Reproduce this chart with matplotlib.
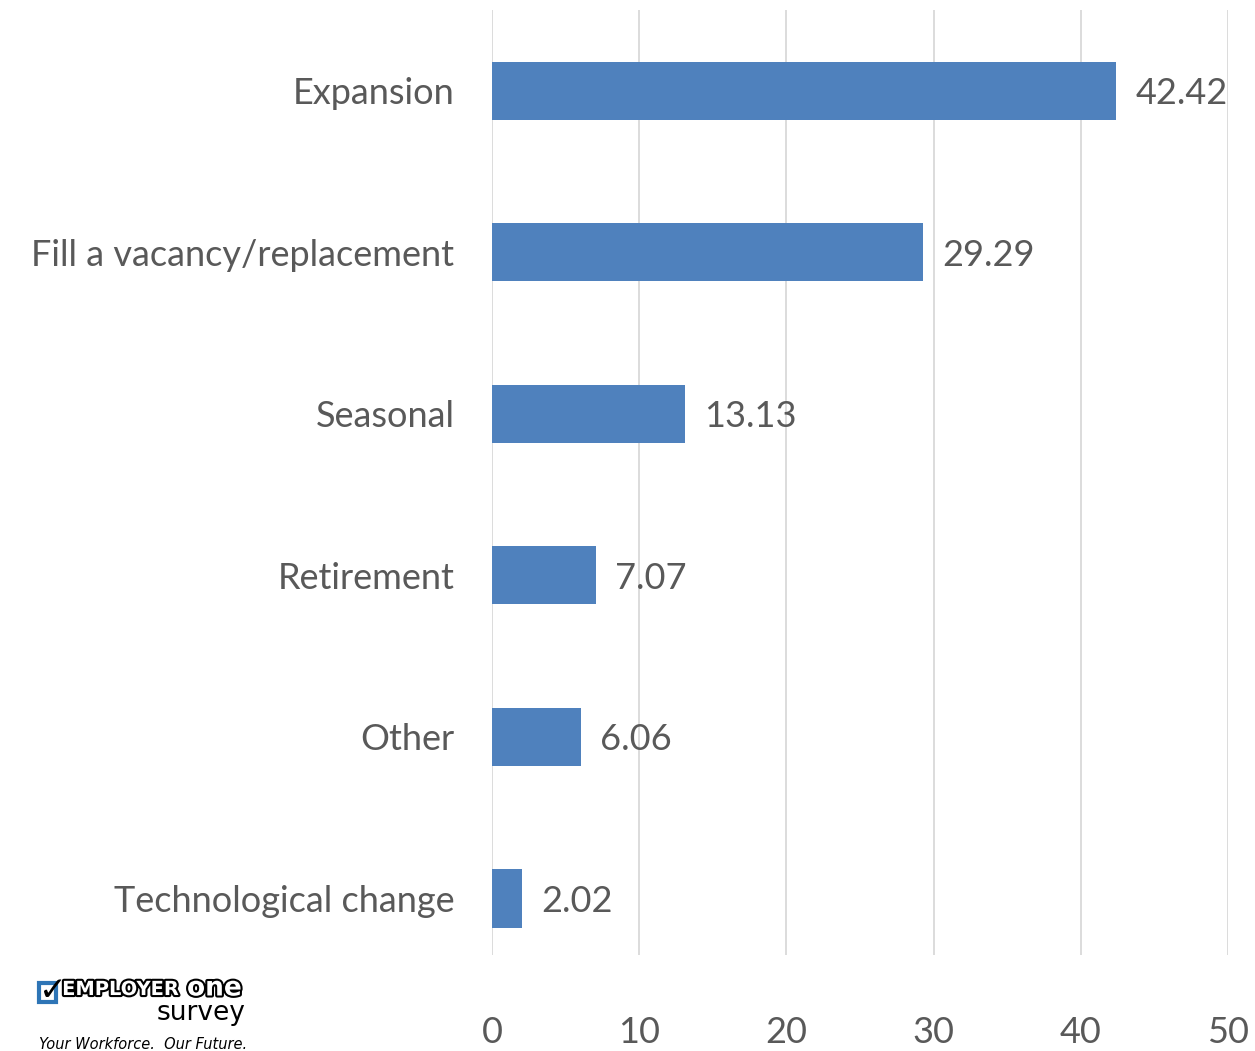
import matplotlib.pyplot as plt
import matplotlib.patheffects as pe
from matplotlib.patches import Rectangle

# reasons for hiring
categories = ["Expansion", "Fill a vacancy/replacement", "Seasonal",
              "Retirement", "Other", "Technological change"]
values = [42.42, 29.29, 13.13, 7.07, 6.06, 2.02]
xticks = [0, 10, 20, 30, 40, 50]

plt.rcParams['font.family'] = ['Lato', 'DejaVu Sans']
gray = '#595959'

fig = plt.figure(figsize=(12.55, 10.51), dpi=100)
ax = fig.add_axes([0.392, 0.0913, 0.5865, 0.8992])

ypos = list(range(len(categories)))[::-1]
ax.barh(ypos, values, height=0.36, color='#4F81BD', zorder=3)
for y, v in zip(ypos, values):
    ax.text(v + 1.3, y, f"{v:.2f}", va='center_baseline', ha='left', fontsize=26, color=gray)

ax.set_xlim(0, 50)
ax.set_ylim(-0.35, 5.5)
ax.set_xticks(xticks)
ax.set_yticks(ypos)
ax.set_yticklabels(categories)
ax.tick_params(axis='both', length=0, labelsize=26, colors=gray)
ax.tick_params(axis='y', pad=27)
ax.tick_params(axis='x', pad=44)
ax.grid(axis='x', color='#D9D9D9', linewidth=1.3, zorder=0)
for s in ax.spines.values():
    s.set_visible(False)

# logo
fig.patches.append(Rectangle((0.031, 0.047), 0.014, 0.018, transform=fig.transFigure,
                             facecolor='white', edgecolor='#2E75B6', linewidth=3))
fig.text(0.031, 0.058, "\u2713", fontsize=24, color='black', family='DejaVu Sans',
         fontweight='bold', va='center')
t = fig.text(0.0495, 0.0585, "EMPLOYER", fontsize=14, fontweight='bold', color='white',
             va='center', family='DejaVu Sans')
t.set_path_effects([pe.Stroke(linewidth=3, foreground='black'), pe.Normal()])
t2 = fig.text(0.149, 0.0595, "one", fontsize=19, fontweight='bold', color='white',
              va='center', family='DejaVu Sans')
t2.set_path_effects([pe.Stroke(linewidth=3, foreground='black'), pe.Normal()])
fig.text(0.196, 0.036, "survey", fontsize=19, color='black', ha='right', va='center',
         family='DejaVu Sans')
fig.text(0.031, 0.0065, "Your Workforce.  Our Future.", fontsize=10.5, style='italic',
         color='black', va='center', family='DejaVu Sans')

fig.savefig('out.png', dpi=100)
